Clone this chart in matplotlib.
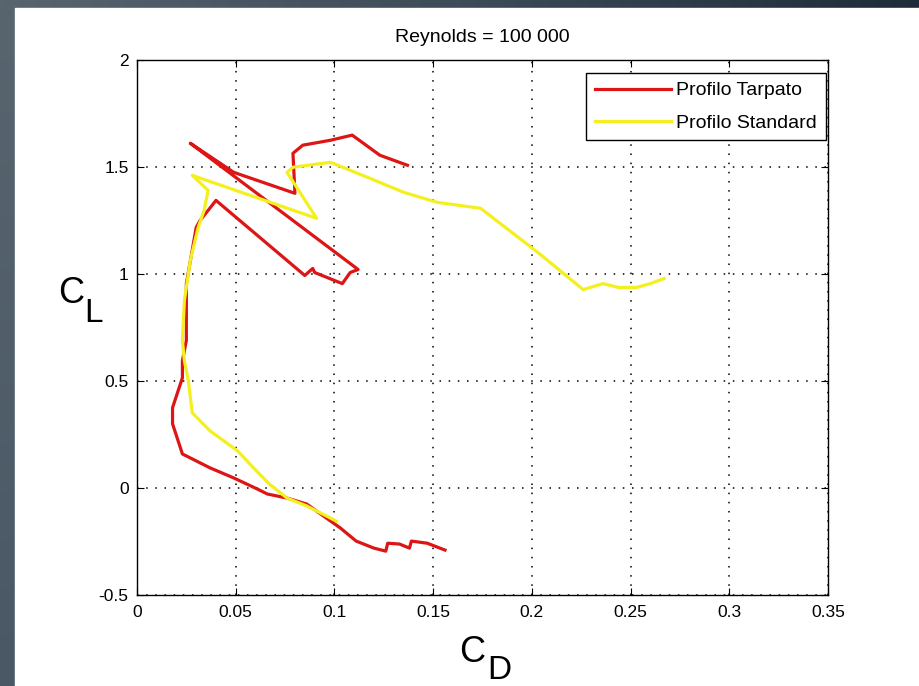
import numpy as np
import matplotlib
matplotlib.use("Agg")
import matplotlib.pyplot as plt
from matplotlib.colors import LinearSegmentedColormap

# ---- data ----
red_cd = [0.156, 0.147, 0.139, 0.138, 0.133, 0.127, 0.126, 0.120, 0.111, 0.103,
          0.096, 0.086, 0.076, 0.066, 0.061, 0.049, 0.037, 0.023, 0.018, 0.018,
          0.023, 0.023, 0.025, 0.025, 0.025, 0.030, 0.032, 0.036, 0.040, 0.085,
          0.089, 0.090, 0.104, 0.108, 0.112, 0.027, 0.049, 0.080, 0.079, 0.084,
          0.098, 0.109, 0.123, 0.137]
red_cl = [-0.290, -0.258, -0.248, -0.281, -0.262, -0.258, -0.295, -0.281, -0.248, -0.187,
          -0.141, -0.075, -0.047, -0.028, -0.005, 0.047, 0.094, 0.159, 0.300, 0.375,
          0.515, 0.595, 0.689, 0.923, 0.955, 1.218, 1.251, 1.297, 1.344, 0.993,
          1.026, 1.007, 0.955, 1.007, 1.021, 1.611, 1.475, 1.377, 1.564, 1.602,
          1.625, 1.649, 1.555, 1.508]

yel_cd = [0.101, 0.096, 0.086, 0.076, 0.067, 0.059, 0.051, 0.037, 0.028, 0.026,
          0.024, 0.023, 0.024, 0.027, 0.031, 0.034, 0.036, 0.028, 0.091, 0.076,
          0.079, 0.098, 0.118, 0.135, 0.152, 0.174, 0.203, 0.226, 0.236, 0.244,
          0.253, 0.260, 0.267]
yel_cl = [-0.155, -0.131, -0.084, -0.047, 0.019, 0.094, 0.173, 0.267, 0.351, 0.501,
          0.595, 0.689, 0.876, 1.063, 1.218, 1.297, 1.391, 1.461, 1.260, 1.475,
          1.499, 1.522, 1.447, 1.382, 1.335, 1.307, 1.101, 0.927, 0.955, 0.937,
          0.937, 0.955, 0.979]

series_names = ["Profilo Tarpato", "Profilo Standard"]
title_text = "Reynolds = 100 000"
xticks = [0, 0.05, 0.1, 0.15, 0.2, 0.25, 0.3, 0.35]
xticklabels = ["0", "0.05", "0.1", "0.15", "0.2", "0.25", "0.3", "0.35"]
yticks = [-0.5, 0, 0.5, 1, 1.5, 2]
yticklabels = ["-0.5", "0", "0.5", "1", "1.5", "2"]

# ---- font ----
plt.rcParams['font.family'] = ['Liberation Sans', 'DejaVu Sans']

W, H = 920, 686
fig = plt.figure(figsize=(W / 100, H / 100), dpi=100)
fig.patch.set_facecolor("white")

# background frame (dark slate strips)
bg = fig.add_axes([0, 0, 1, 1], zorder=-10)
bg.set_axis_off()
cmap = LinearSegmentedColormap.from_list("slate", ["#58656f", "#3e4b58", "#1e2b3a"])
bg.imshow(np.linspace(0, 1, 256)[None, :], cmap=cmap, extent=[0, W, 0, H], aspect="auto")
bg.add_patch(plt.Rectangle((15, 0), W - 15, H - 8, color="white", zorder=2))
lg = LinearSegmentedColormap.from_list("left", ["#4a5866", "#58656f"])
bg.imshow(np.linspace(0, 1, 256)[:, None], cmap=lg, extent=[0, 15, 0, H - 8],
          aspect="auto", zorder=1, origin="lower")
bg.set_xlim(0, W)
bg.set_ylim(0, H)

ax = fig.add_axes([137 / W, 1 - 595 / H, (828 - 137) / W, (595 - 60) / H])
ax.plot(red_cd, red_cl, color="#dd1515", lw=2.3, label=series_names[0])
ax.plot(yel_cd, yel_cl, color="#f4f020", lw=2.3, label=series_names[1])

ax.set_xlim(0, 0.35)
ax.set_ylim(-0.5, 2)
ax.set_xticks(xticks)
ax.set_xticklabels(xticklabels)
ax.set_yticks(yticks)
ax.set_yticklabels(yticklabels)
ax.tick_params(direction="in", top=True, right=True, length=5, labelsize=12.5)
ax.tick_params(axis="x", pad=7)
ax.tick_params(axis="y", pad=6)
ax.grid(True, color="black", linestyle=(0, (1, 5)), linewidth=1.1)
for s in ax.spines.values():
    s.set_linewidth(1.0)

ax.set_title(title_text, fontsize=14, pad=13)

leg = ax.legend(loc="upper right", fontsize=14, frameon=True, fancybox=False,
                edgecolor="black", framealpha=1, handlelength=3.9, borderpad=0.45,
                labelspacing=0.75, handletextpad=0.3, borderaxespad=0,
                bbox_to_anchor=(826 / W, 1 - 73 / H), bbox_transform=fig.transFigure)
leg.get_frame().set_linewidth(1.0)

# axis labels (C with large subscript)
fig.text(58 / W, 1 - 303 / H, "C", fontsize=26, ha="left", va="baseline")
fig.text(84 / W, 1 - 322 / H, "L", fontsize=24, ha="left", va="baseline")
fig.text(459 / W, 1 - 662 / H, "C", fontsize=26, ha="left", va="baseline")
fig.text(487 / W, 1 - 679 / H, "D", fontsize=24, ha="left", va="baseline")

fig.savefig("out.png", dpi=100)
